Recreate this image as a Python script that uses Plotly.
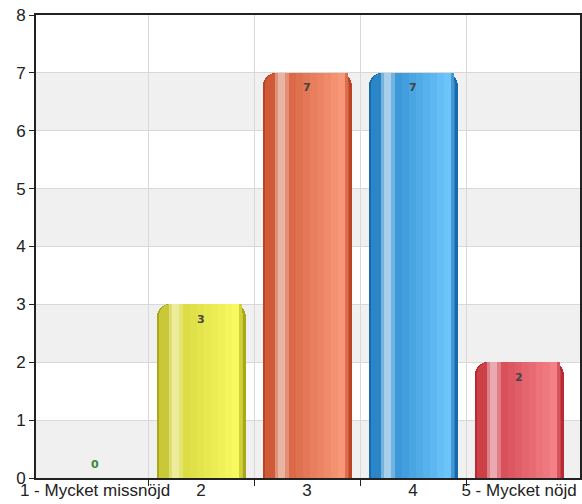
import plotly.graph_objects as go

CATEGORIES = ["1 - Mycket missnöjd", "2", "3", "4", "5 - Mycket nöjd"]
COUNTS = [0, 3, 7, 7, 2]
Y_TICKS = [0, 1, 2, 3, 4, 5, 6, 7, 8]

# per bar: edge, left, highlight, mid, light
PALETTE = [
    ("#3a8a3a", "#4caf50", "#a5d6a7", "#4caf50", "#81c784"),
    ("#a8a818", "#c8c838", "#ecec9c", "#dcdc44", "#f8f860"),
    ("#bc4424", "#cf5a38", "#e9b4a2", "#dc6a48", "#f89878"),
    ("#1769ab", "#2a86c6", "#a8d0ea", "#3c98d8", "#6cc4fa"),
    ("#b82a34", "#cc4048", "#eaaab2", "#d8505a", "#f48088"),
]

UNIT = 106.0  # px per category, used to express stripe positions


def mix(c1, c2, t):
    a = [int(c1[i:i + 2], 16) for i in (1, 3, 5)]
    b = [int(c2[i:i + 2], 16) for i in (1, 3, 5)]
    return "#" + "".join(f"{round(x + (y - x) * t):02x}" for x, y in zip(a, b))


x = list(range(len(CATEGORIES)))


def strip(px0, px1, colors):
    off = -0.42 + px0 / UNIT
    return go.Bar(x=x, y=COUNTS, width=(px1 - px0) / UNIT, offset=off,
                  marker=dict(color=colors, line=dict(width=0)),
                  hoverinfo="skip", showlegend=False)


fig = go.Figure()
# outer dark edge
fig.add_trace(go.Bar(x=x, y=COUNTS, width=0.84, offset=-0.42,
                     marker=dict(color=[p[0] for p in PALETTE], cornerradius=13,
                                 line=dict(width=0)),
                     hoverinfo="skip", showlegend=False))
# inner body
fig.add_trace(go.Bar(x=x, y=COUNTS, width=0.80, offset=-0.40,
                     marker=dict(color=[p[1] for p in PALETTE], cornerradius=12,
                                 line=dict(width=0)),
                     hoverinfo="skip", showlegend=False))
# highlight stripe
fig.add_trace(strip(12, 15, [mix(p[1], p[2], 0.6) for p in PALETTE]))
fig.add_trace(strip(15, 22, [p[2] for p in PALETTE]))
fig.add_trace(strip(22, 26, [mix(p[2], p[3], 0.5) for p in PALETTE]))
# gradient to the right
n = 8
for k in range(n):
    t = k / (n - 1)
    px0 = 26 + k * 7
    fig.add_trace(strip(px0, px0 + 7, [mix(p[3], p[4], t) for p in PALETTE]))
fig.add_trace(strip(82, 85, [mix(p[4], p[0], 0.5) for p in PALETTE]))

# invisible trace on the label axis
fig.add_trace(go.Scatter(x=x, y=COUNTS, xaxis="x2", mode="markers",
                         marker=dict(opacity=0), hoverinfo="skip", showlegend=False))

for i, v in enumerate(COUNTS):
    fig.add_annotation(
        x=i, y=v, xref="x", yref="y", text=f"<b>{v}</b>", showarrow=False,
        yshift=14 if v == 0 else -15,
        font=dict(size=11, color="#3a8a3a" if v == 0 else "#444444",
                  family="DejaVu Sans"),
    )

# alternating bands
for lo in Y_TICKS[:-1:2]:
    fig.add_shape(type="rect", xref="paper", x0=0, x1=1, yref="y", y0=lo, y1=lo + 1,
                  fillcolor="#f0f0f0", line=dict(width=0), layer="below")

xr = [-0.557, 4.575]
fig.update_layout(
    width=582, height=504,
    margin=dict(l=36, r=2, t=15, b=26),
    paper_bgcolor="white", plot_bgcolor="white",
    barmode="overlay", bargap=0,
    font=dict(family="Liberation Sans, Arial", size=17, color="#222222"),
    showlegend=False,
    xaxis=dict(range=xr, tickvals=[0.5, 1.5, 2.5, 3.5], showticklabels=False,
               ticks="outside", ticklen=6, tickcolor="#222222",
               showgrid=True, gridcolor="#d8d8d8", gridwidth=1,
               showline=True, linecolor="#222222", linewidth=2, mirror=True,
               zeroline=False, automargin=False),
    xaxis2=dict(range=xr, overlaying="x", side="bottom", anchor="y",
                tickvals=x, ticktext=CATEGORIES, ticks="", showgrid=False,
                showline=False, zeroline=False, automargin=False, ticklabelstandoff=0,
                tickfont=dict(size=17, color="#222222")),
    yaxis=dict(range=[0, 8], tickvals=Y_TICKS, ticks="outside", ticklen=5,
               tickcolor="#222222", showgrid=True, gridcolor="#d8d8d8", gridwidth=1,
               showline=True, linecolor="#222222", linewidth=2, mirror=True,
               zeroline=False, automargin=False,
               tickfont=dict(size=17, color="#222222")),
)

fig.write_html("out.html", config={"displayModeBar": False},
               post_script="document.body.style.margin='0';")
